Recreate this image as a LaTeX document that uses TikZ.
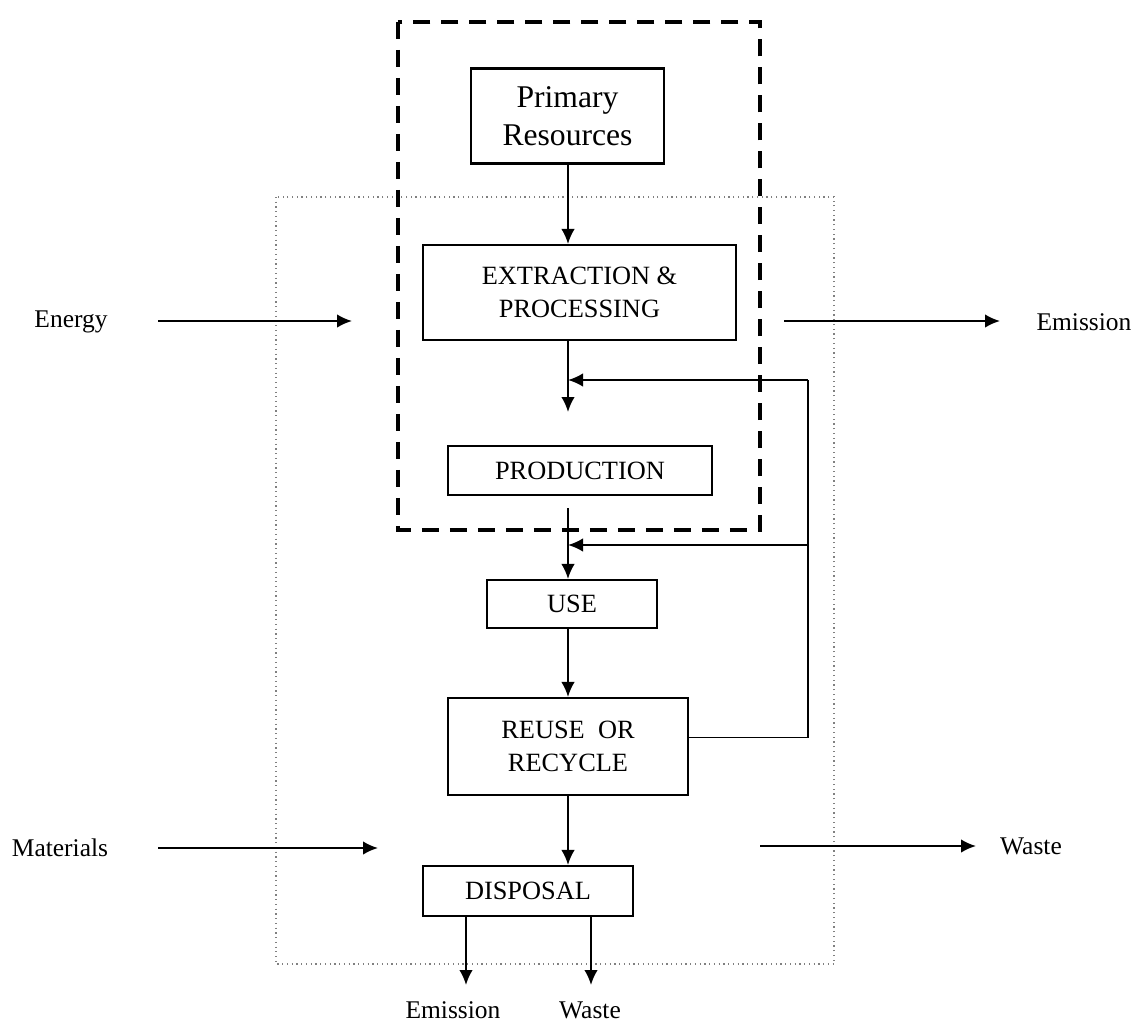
\documentclass[tikz,border=0pt]{standalone}
\usepackage{fontspec}
\setmainfont{Liberation Serif}
\usetikzlibrary{positioning}
\usetikzlibrary{calc}
\usetikzlibrary{arrows.meta}
\tikzset{box/.style={draw,line width=1.2pt,align=center,inner sep=0pt,font=\fontsize{15}{18.5}\selectfont},
  flow/.style={-{Latex[length=3mm,width=2.7mm]},line width=1.1pt},
  lbl/.style={font=\fontsize{14.5}{17}\selectfont}}

\begin{document}
\begin{tikzpicture}[x=0.02cm,y=-0.02cm]
\useasboundingbox (0,0) rectangle (1133,1025);
% system boundaries
\draw[dotted,gray,line width=0.7pt] (276,197) rectangle (834,964);
\draw[line width=1.8pt,dash pattern=on 0.34cm off 0.22cm] (398,22) rectangle (760,530);

\node (prim) at (567.5,116) [box,minimum width=3.86cm,minimum height=1.9cm,font=\fontsize{18}{21.5}\selectfont] {Primary\\Resources};
\node (extr) at (579.5,292.5) [box,minimum width=6.26cm,minimum height=1.9cm] {EXTRACTION \&\\PROCESSING};
\node (prod) at (580,470.5) [box,minimum width=5.28cm,minimum height=0.98cm] {PRODUCTION};
\node (use) at (572,604) [box,minimum width=3.4cm,minimum height=0.96cm] {USE};
\node (reuse) at (568,746.5) [box,minimum width=4.8cm,minimum height=1.94cm] {REUSE~ OR\\RECYCLE};
\node (disp) at (528,891) [box,minimum width=4.2cm,minimum height=1cm] {DISPOSAL};

\node (energy) at (71,322) [lbl] {Energy};
\node (mat) at (60,848) [lbl] {Materials};
\node (emis) at (1084,322) [lbl] {Emission};
\node (waste) at (1031,846) [lbl] {Waste};
\node (emis2) at (453,1010) [lbl] {Emission};
\node (waste2) at (590,1010) [lbl] {Waste};

\coordinate (prodin) at (568,412);
\coordinate (prodout) at (568,508);
\coordinate (fb1) at (808,380);
\coordinate (fb2) at (808,545);
\coordinate (en1) at (158,321);
\coordinate (en2) at (352,321);
\coordinate (em1) at (784,321);
\coordinate (em2) at (1000,321);
\coordinate (ma1) at (158,848);
\coordinate (ma2) at (378,848);
\coordinate (wa1) at (760,846);
\coordinate (wa2) at (976,846);
\coordinate (de) at (466,985);
\coordinate (dw) at (591,985);

\draw [flow] (prim.south -| prodin) -- (extr.north -| prodin);
\draw [flow] (extr.south -| prodin) -- (prodin);
\draw [flow] (prodout) -- (use.north -| prodout);
\draw [flow] (use.south -| prodout) -- (reuse.north -| prodout);
\draw [flow] (reuse.south -| prodout) -- (disp.north -| prodout);
\draw [line width=1.1pt] ($(reuse.east)+(0,-9)$) -| (fb1);
\draw [flow] (fb1) -- (fb1 -| prodin);
\draw [flow] (fb2) -- (fb2 -| prodout);

% inputs and outputs
\draw [flow] (en1) -- (en2);
\draw [flow] (em1) -- (em2);
\draw [flow] (ma1) -- (ma2);
\draw [flow] (wa1) -- (wa2);
\draw [flow] (disp.south -| de) -- (de);
\draw [flow] (disp.south -| dw) -- (dw);
\end{tikzpicture}
\end{document}
